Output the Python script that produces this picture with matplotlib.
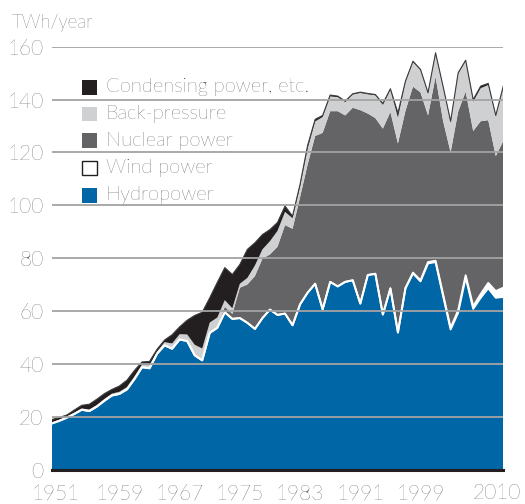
import matplotlib
matplotlib.use('Agg')
import matplotlib.pyplot as plt
import matplotlib.transforms as mtransforms
from matplotlib.patches import Rectangle
import numpy as np

years = list(range(1950, 2011))
hydro = [17.4, 18.4, 19.6, 21.0, 22.6, 22.1, 23.8, 26.0, 28.0, 28.6,
         30.3, 34.2, 38.7, 38.3, 43.8, 47.0, 45.7, 49.2, 48.6, 43.2,
         41.3, 51.7, 53.6, 59.5, 57.0, 57.3, 55.5, 53.2, 57.3, 60.5,
         58.5, 59.0, 54.6, 62.5, 66.9, 70.3, 60.6, 71.0, 69.3, 71.0,
         71.6, 62.8, 73.6, 74.0, 58.6, 68.5, 51.8, 68.5, 74.2, 71.2,
         78.0, 78.5, 65.7, 53.0, 59.3, 72.6, 60.8, 65.0, 68.6, 65.0,
         65.3]
wind = [0.0] * 43 + [0.1, 0.1, 0.1, 0.1, 0.2, 0.3, 0.4,
                     0.5, 0.5, 0.6, 0.6, 0.9, 0.9, 1.0, 1.4, 2.0, 2.5,
                     3.5]
nuclear = [0.0] * 22 + [0.0, 2.1, 1.9, 11.5, 14.5, 20.0, 22.5, 20.9,
                        25.8, 33.5, 36.5, 40.6, 48.5, 55.9, 66.8, 64.6, 66.3, 63.0,
                        65.3, 73.2, 61.1, 58.9, 70.3, 66.7, 71.5, 67.0, 70.4, 71.1,
                        55.5, 69.6, 65.6, 66.4, 75.2, 69.5, 66.3, 65.4, 61.6, 51.1,
                        55.5]
back_pressure = [0.4, 0.4, 0.4, 0.5, 0.5, 0.6, 0.6, 0.7, 0.7, 0.8,
                 0.9, 1.0, 1.0, 1.2, 0.8, 1.2, 2.0, 2.0, 2.5, 4.0,
                 4.5, 3.9, 3.9, 2.5, 2.1, 1.5, 2.5, 4.0, 3.5, 5.0,
                 6.0, 5.0, 4.0, 4.0, 6.0, 5.5, 6.0, 5.6, 5.3, 5.1,
                 5.0, 6.5, 7.3, 8.6, 9.0, 8.4, 9.8, 10.9, 9.3, 8.4,
                 8.3, 8.8, 12.8, 11.3, 14.4, 11.6, 11.1, 12.5, 13.3, 15.1,
                 20.3]
condensing = [1.1, 0.9, 0.6, 1.0, 1.2, 2.0, 2.2, 2.0, 1.6, 2.2,
              2.6, 2.3, 1.0, 1.4, 0.9, 0.8, 3.3, 2.8, 5.4, 11.1,
              13.7, 9.4, 13.3, 12.3, 12.8, 7.3, 10.8, 8.6, 5.6, 4.4,
              3.2, 2.2, 0.8, 0.9, 1.2, 0.8, 0.6, 0.5, 0.4, 0.3,
              0.3, 0.3, 0.3, 0.3, 0.5, 0.4, 1.7, 0.4, 0.3, 0.3,
              0.3, 0.3, 0.3, 0.5, 0.3, 0.3, 0.8, 0.8, 0.6, 0.3,
              0.5]

y_ticks = [0, 20, 40, 60, 80, 100, 120, 140, 160]
x_tick_years = [1951, 1959, 1967, 1975, 1983, 1991, 1999, 2010]
unit_label = "TWh/year"
legend_labels = ["Condensing power, etc.", "Back-pressure", "Nuclear power",
                 "Wind power", "Hydropower"]

BLUE = '#0066a6'
NUC = '#646466'
BP = '#cfd0d2'
COND = '#231f20'
GRID = '#a3a3a3'
TXT = '#1a1a1a'

plt.rcParams['font.family'] = ['Lato', 'DejaVu Sans']
plt.rcParams['font.weight'] = 'light'

W, H = 525, 504
fig = plt.figure(figsize=(W / 100, H / 100), dpi=100)
x0, x1, y0, y1 = 51.7, 503.3, 469.5, 46.7
ax = fig.add_axes([x0 / W, 1 - y0 / H, (x1 - x0) / W, (y0 - y1) / H])

x = np.array(years, dtype=float)
h = np.array(hydro)
l2 = h + np.array(wind)
l3 = l2 + np.array(nuclear)
l4 = l3 + np.array(back_pressure)
l5 = l4 + np.array(condensing)

ax.fill_between(x, 0, h, facecolor=BLUE, lw=0, zorder=2)
ax.fill_between(x, h, l2, facecolor='white', lw=0, zorder=2)
ax.fill_between(x, l2, l3, facecolor=NUC, lw=0, zorder=2)
ax.fill_between(x, l3, l4, facecolor=BP, lw=0, zorder=2)
ax.fill_between(x, l4, l5, facecolor=COND, lw=0, zorder=2)
ax.plot(x, l5, color='#3c3c3c', lw=0.8, zorder=3)
ax.plot(x, h, color='white', lw=1.4, zorder=3)
ax.plot(x, l2, color='white', lw=1.4, zorder=3)

for yv in y_ticks[1:]:
    ax.axhline(yv, color=GRID, lw=1.3, zorder=5)

ax.set_xlim(1950, 2010)
ax.set_ylim(0, 160)
for s in ['top', 'right', 'left']:
    ax.spines[s].set_visible(False)
ax.spines['bottom'].set_color(COND)
ax.spines['bottom'].set_linewidth(2.2)
ax.spines['bottom'].set_zorder(6)

FS = 15
ax.set_yticks(y_ticks)
ax.set_yticklabels([str(v) for v in y_ticks], fontsize=FS, color=TXT,
                   fontweight='light')
ax.tick_params(axis='y', length=0, pad=6)
ax.set_xticks(x_tick_years)
xl = ax.set_xticklabels([str(v) for v in x_tick_years], fontsize=FS, color=TXT,
                        fontweight='light')
ax.tick_params(axis='x', length=0, pad=10)
xl[0].set_transform(xl[0].get_transform() +
                    mtransforms.ScaledTranslation(-4 / 100, 0, fig.dpi_scale_trans))
xl[-1].set_transform(xl[-1].get_transform() +
                     mtransforms.ScaledTranslation(-6 / 100, 0, fig.dpi_scale_trans))

fig.text(12 / W, 1 - 28 / H, unit_label, fontsize=13.5, color=TXT,
         ha='left', va='baseline', fontweight='light')

colors = [COND, BP, NUC, 'white', BLUE]
rows = [87.3, 114.0, 140.7, 167.8, 195.5]
sq = 14.5
for lab, col, yc in zip(legend_labels, colors, rows):
    ec = '#231f20' if col == 'white' else col
    fig.patches.append(Rectangle((82 / W, 1 - (yc + sq / 2) / H), sq / W, sq / H,
                                 transform=fig.transFigure, facecolor=col,
                                 edgecolor=ec, lw=1.0 if col == 'white' else 0))
    fig.text(106 / W, 1 - yc / H, lab, fontsize=14.5, color=TXT,
             ha='left', va='center', fontweight='light')

fig.savefig('out.png', dpi=100)
